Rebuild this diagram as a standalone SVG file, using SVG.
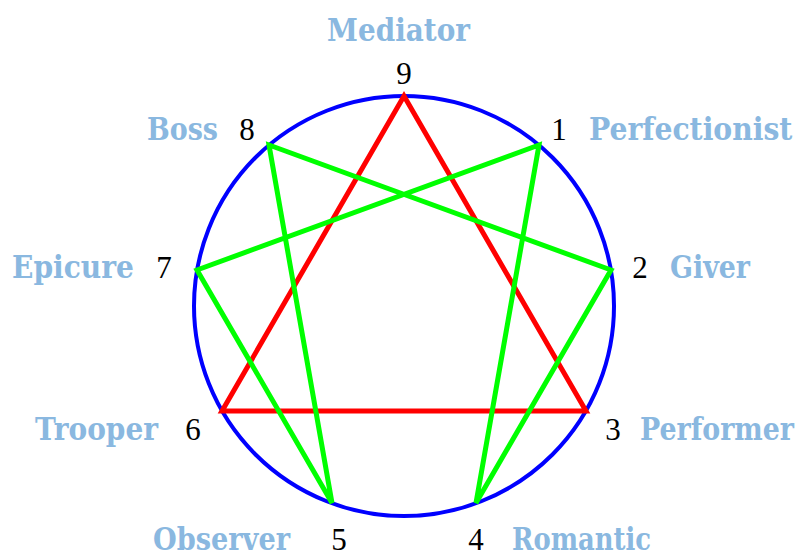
<svg xmlns="http://www.w3.org/2000/svg" width="806" height="557" viewBox="0 0 806 557">
<style>
.lbl{font-family:"DejaVu Serif","Liberation Serif",serif;font-weight:bold;font-size:31px;fill:#8ab8e0}
.num{font-family:"Liberation Serif","DejaVu Serif",serif;font-size:31px;fill:#000}
.red{stroke:#ff0000;stroke-width:5;fill:none;stroke-linejoin:miter}
.grn{stroke:#00ff00;stroke-width:5;fill:none;stroke-linejoin:miter}
</style>
<rect width="806" height="557" fill="#fff"/>
<g id="circle"><circle cx="404" cy="306" r="210" fill="none" stroke="#0000ff" stroke-width="4"/></g>
<g id="connectors">
<polygon class="red" points="404,96 586,411 222,411"/>
<polygon class="grn" points="539,145 476,503 611,270 269,145 332,503 197,270"/>
</g>
<g id="n9"><text class="lbl" x="327" y="41" textLength="143" lengthAdjust="spacingAndGlyphs">Mediator</text><text class="num" x="404" y="84" text-anchor="middle">9</text></g>
<g id="n8"><text class="lbl" x="147" y="140" textLength="71" lengthAdjust="spacingAndGlyphs">Boss</text><text class="num" x="247" y="140" text-anchor="middle">8</text></g>
<g id="n1"><text class="num" x="559" y="140" text-anchor="middle">1</text><text class="lbl" transform="matrix(0.9,0,0,1,589,140)" x="0" y="0" textLength="226" lengthAdjust="spacingAndGlyphs">Perfectionist</text></g>
<g id="n7"><text class="lbl" x="12" y="278" textLength="122" lengthAdjust="spacingAndGlyphs">Epicure</text><text class="num" x="164" y="278" text-anchor="middle">7</text></g>
<g id="n2"><text class="num" x="640" y="278" text-anchor="middle">2</text><text class="lbl" x="670" y="278" textLength="80" lengthAdjust="spacingAndGlyphs">Giver</text></g>
<g id="n6"><text class="lbl" x="35" y="440" textLength="123" lengthAdjust="spacingAndGlyphs">Trooper</text><text class="num" x="193" y="440" text-anchor="middle">6</text></g>
<g id="n3"><text class="num" x="613" y="440" text-anchor="middle">3</text><text class="lbl" transform="matrix(0.89,0,0,1,640,440)" x="0" y="0" textLength="173" lengthAdjust="spacingAndGlyphs">Performer</text></g>
<g id="n5"><text class="lbl" x="153" y="550" textLength="137" lengthAdjust="spacingAndGlyphs">Observer</text><text class="num" x="339" y="550" text-anchor="middle">5</text></g>
<g id="n4"><text class="num" x="476" y="550" text-anchor="middle">4</text><text class="lbl" x="512" y="550" textLength="139" lengthAdjust="spacingAndGlyphs">Romantic</text></g>
</svg>
